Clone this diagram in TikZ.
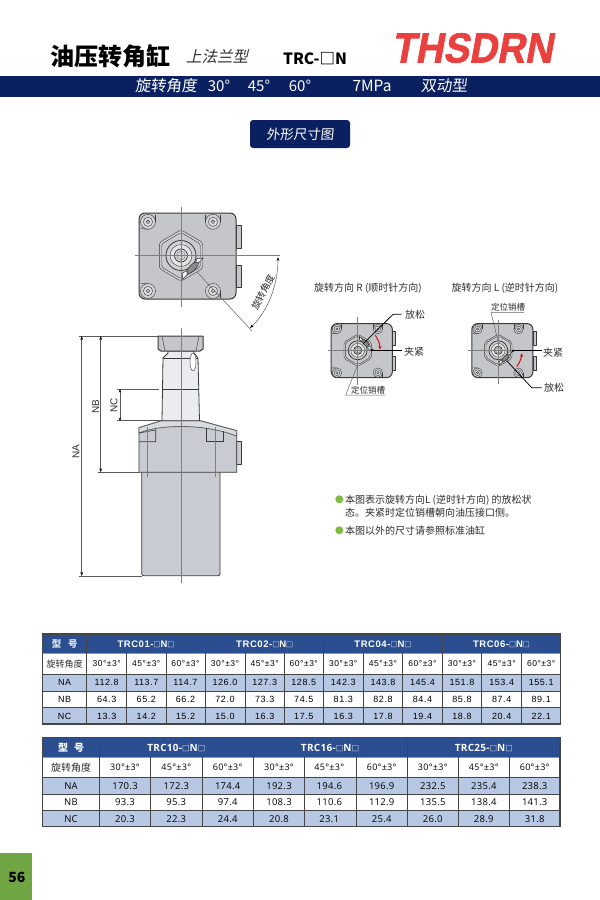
\documentclass[tikz,border=0pt]{standalone}
\usepackage{fontspec}
\usepackage{graphicx}
\usetikzlibrary{arrows.meta}
\setmainfont{Liberation Sans}
\newfontfamily\cjk{Noto Sans CJK SC}
\newfontfamily\cjkslant[FakeSlant=0.22]{Noto Sans CJK SC}
\newfontfamily\cjkband[FakeSlant=0.1]{Noto Sans CJK SC}
\newfontfamily\tabA[LetterSpace=6]{Liberation Sans}
\newfontfamily\tabB[LetterSpace=3]{Open Sans}
\newfontfamily\logofont[FakeBold=1.6,FakeSlant=0.2]{Liberation Sans Bold}
\newcommand\fsz[1]{\fontsize{#1}{#1}\selectfont}
\newcommand\holeat[2]{%
    \draw[thinl,fill=plate!80!white] (#1,#2) circle (7.5);
    \draw[thinl,fill=plate!60!white] (#1,#2) circle (4.6);
    \draw[thinl,fill=plate] (#1,#2) circle (1.8);
}
\definecolor{navy}{HTML}{0A2060}
\definecolor{hdr}{HTML}{2A4E8F}
\definecolor{lb}{HTML}{B6C8E4}
\definecolor{grid}{HTML}{454545}
\definecolor{bodyg}{HTML}{C9CBD3}
\definecolor{plate}{HTML}{C4C6CA}
\definecolor{neckg}{HTML}{EAECEF}
\definecolor{edge}{HTML}{3A3A3A}
\definecolor{cl}{HTML}{7F7F7F}
\definecolor{logored}{HTML}{E8413F}
\definecolor{pagegreen}{HTML}{70A544}
\definecolor{bull}{HTML}{7DBB42}
\definecolor{txt}{HTML}{2E2E2E}
\tikzset{
  txtnode/.style={inner sep=0pt,outer sep=0pt,text=txt},
  outline/.style={draw=edge,line width=.8pt,line join=round},
  thinl/.style={draw=edge,line width=.4pt},
  centerl/.style={draw=cl,line width=.55pt},
  dimline/.style={draw=black!65,line width=.5pt},
  leader/.style={draw=black,line width=.75pt},
  grayleader/.style={draw=black!60,line width=.5pt},
  redarrow/.style={draw=red!85!black,line width=.9pt,-{Stealth[length=3.5pt,width=3pt]}},
  slotmark/.pic={
    \path[fill=white,draw=edge,line width=.6pt] (22,2.7) -- (1,24.3) -- (2,17)
      .. controls (8,16) and (14,11) .. (16,3) -- cycle;
    \begin{scope}[shift={(11.5,12.3)},rotate=45]
      \draw[draw=edge,line width=.6pt,fill=plate!70!black] (0,0) ellipse (7.5 and 3);
    \end{scope}
  },
  cylview/.pic={
    \draw[outline,fill=plate] (55,-30.5) -- (60,-30.5) -- (60,-7.5) -- (55,-7.5) -- cycle;
    \draw[outline,fill=plate] (55,9.5) -- (60,9.5) -- (60,31.5) -- (55,31.5) -- cycle;
    \draw[outline,fill=plate,line width=1pt,rounded corners=6] (-42,-42.5) rectangle (55,43.5);
    \holeat{-33}{-33.7}
    \holeat{32}{-33.7}
    \holeat{-33}{35.5}
    \holeat{32}{35.5}
    \draw[thinl] (-40.5,-27) -- (-33,-26.2);
    \draw[thinl] (-25.5,-41) -- (-25.5,-33.7);
    \draw[thinl] (24.5,-41) -- (24.5,-33.7);
    \draw[thinl] (39.5,-41) -- (39.5,-33.7);
    \draw[thinl] (-40.5,28) -- (-33,27.7);
    \draw[thinl] (39.5,35.5) -- (39.5,42);
    \draw[thinl,fill=plate!85!white,rounded corners=2] (0,-25.7) -- (21.7,-13) -- (21.7,13) -- (0,25.7) -- (-21.7,13) -- (-21.7,-13) -- cycle;
    \draw[thinl,fill=plate!92!white,rounded corners=2] (0,-23) -- (19.5,-11.5) -- (19.5,11.5) -- (0,23) -- (-19.5,11.5) -- (-19.5,-11.5) -- cycle;
    \draw[outline,fill=plate!80!white] (0,0) circle (15);
    \draw[thinl,fill=plate!45!white] (0,0) circle (11);
    \draw[outline,fill=white!92!black] (0,0) circle (6.5);
    \draw[centerl,fill=plate!80!white] (0,0) circle (4.5);
  }
}
\begin{document}
\begin{tikzpicture}[x=1pt,y=-1pt,font=\cjk]
\useasboundingbox (0,0) rectangle (600,900);
\fill[white] (0,0) rectangle (600,900);

% header
\node[txtnode,anchor=center,text=black] (title) at (110,56) {\fsz{24}\bfseries 油压转角缸};
\node[txtnode,anchor=center] (subtitle) at (217,57) {\fsz{15.5}\cjkslant 上法兰型};
\node[txtnode,anchor=center,text=black] (model) at (315,59) {\fsz{15.5}\bfseries TRC-□N};
\node[inner sep=0pt,anchor=center,text=logored] (logo) at (472,48) {\scalebox{.92}[1]{\fsz{42}\logofont THSDRN}};
\fill[navy] (0,76) rectangle (600,97);
\node[txtnode,anchor=center,text=white] (b1) at (166,86) {\fsz{15.5}\cjkband 旋转角度};
\node[txtnode,anchor=center,text=white] (b2) at (219,86) {\fsz{15}\cjk 30°};
\node[txtnode,anchor=center,text=white] (b3) at (259,86) {\fsz{15}\cjk 45°};
\node[txtnode,anchor=center,text=white] (b4) at (300,86) {\fsz{15}\cjk 60°};
\node[txtnode,anchor=center,text=white] (b5) at (372,86) {\fsz{15.5}\cjk 7MPa};
\node[txtnode,anchor=center,text=white] (b6) at (444,86) {\fsz{15.5}\cjkband 双动型};
\fill[navy,rounded corners=3] (250,120) rectangle (350,148);
\node[txtnode,anchor=center,text=white] (btn) at (300,134) {\fsz{13.5}\cjkband 外形尺寸图};

% top view
\path (181,255.5) pic {cylview};
\path (181,255.5) pic {slotmark};
\coordinate (cla) at (135,255.5); \coordinate (clb) at (280,255.5);
\coordinate (clc) at (181,207); \coordinate (cld) at (181,307);
\draw[centerl] (cla) -- (clb);
\draw[centerl] (clc) -- (cld);
\coordinate (angfrom) at (197,272); \coordinate (angto) at (252,331);
\draw[grayleader] (angfrom) -- (angto);
\coordinate (arcA) at (278,257); \coordinate (arcB) at (250,328);
\draw[dimline,{Stealth[length=4pt,width=2.6pt,black]}-{Stealth[length=4pt,width=2.6pt,black]}] (arcA) .. controls (278,283) and (269,310) .. (arcB);
\node[txtnode,rotate=62,anchor=center] (anglab) at (263,292) {\fsz{9.5}旋转角度};

% side view
\draw[outline,fill=bodyg,rounded corners=2] (141.7,472) -- (141.7,575.7) -- (220,575.7) -- (220,472);
\draw[outline,fill=bodyg] (236.7,441.7) -- (241.7,441.7) -- (241.7,464) -- (236.7,464) -- cycle;
\draw[outline,fill=bodyg] (139,472.3) -- (139,427.7) -- (161.7,420.7) -- (200,420.7) -- (236.7,430.7) -- (236.7,472.3) -- cycle;
\draw[outline,draw=edge!80,fill=bodyg!70!white] (139,427.7) -- (161.7,420.7) -- (200,420.7) -- (236.7,430.7) -- (236.7,436) .. controls (215,428) and (195,426.5) .. (181,426.5) .. controls (165,426.5) and (150,428.5) .. (139,433) -- cycle;
\draw[thinl,line width=.6pt] (139,433) -- (155.7,430) -- (155.7,441.7) -- (139,441.7);
\draw[thinl,line width=.6pt] (206.7,428.2) -- (206.7,441.7) -- (223,441.7) -- (223,430.8);
\draw[centerl] (147.3,427) -- (147.3,476.7);
\draw[centerl] (215,427) -- (215,476.7);
\draw[outline,fill=neckg] (162,420.7) -- (163,358) -- (168,353) -- (168,351) -- (194,351) -- (194,353) -- (198,358) -- (199.5,420.7) -- cycle;
\draw[thinl] (163,358) -- (198,358);
\draw[thinl] (162.5,389.5) -- (199,389.5);
\draw[thinl,fill=white] (193,362) ellipse (3 and 9);
\draw[outline,fill=plate,line width=1pt] (158,336) -- (203,336) -- (203,349) -- (200,351) -- (161,351) -- (158,349) -- cycle;
\draw[thinl] (162,336) -- (165,351);
\draw[thinl] (199,336) -- (196,351);
\coordinate (scla) at (181,328); \coordinate (sclb) at (181,583);
\draw[centerl] (scla) -- (sclb);

% dims
\coordinate (natop) at (81.7,336); \coordinate (nabot) at (81.7,576);
\coordinate (nbtop) at (100.7,336); \coordinate (nbbot) at (100.7,472.3);
\coordinate (nctop) at (120,389); \coordinate (ncbot) at (120,421);
\coordinate (e1a) at (79,336); \coordinate (e1b) at (158,336);
\coordinate (e2a) at (79,576); \coordinate (e2b) at (142,576);
\coordinate (e3a) at (98,472.3); \coordinate (e3b) at (139,472.3);
\coordinate (e4a) at (117,389); \coordinate (e4b) at (159,389);
\coordinate (e5a) at (117,420.7); \coordinate (e5b) at (162,420.7);
\draw[dimline] (e1a) -- (e1b); \draw[dimline] (e2a) -- (e2b); \draw[dimline] (e3a) -- (e3b);
\draw[dimline] (e4a) -- (e4b); \draw[dimline] (e5a) -- (e5b);
\draw[dimline,{Stealth[length=4pt,width=2.6pt,black]}-{Stealth[length=4pt,width=2.6pt,black]}] (natop) -- (nabot);
\draw[dimline,{Stealth[length=4pt,width=2.6pt,black]}-{Stealth[length=4pt,width=2.6pt,black]}] (nbtop) -- (nbbot);
\draw[dimline,{Stealth[length=3.5pt,width=2.6pt,black]}-{Stealth[length=3.5pt,width=2.6pt,black]}] (nctop) -- (ncbot);
\node[txtnode,rotate=90,anchor=center] (na) at (76,452) {\fsz{10}\rmfamily NA};
\node[txtnode,rotate=90,anchor=center] (nb) at (95.6,406.7) {\fsz{10}\rmfamily NB};
\node[txtnode,rotate=90,anchor=center] (nc) at (114,405) {\fsz{10}\rmfamily NC};

% small views
\node[txtnode,anchor=center] (rtitle) at (368,288) {\fsz{10}旋转方向 R (顺时针方向)};
\node[txtnode,anchor=center] (ltitle) at (505,288) {\fsz{10}旋转方向 L (逆时针方向)};
\path (357.7,350.3) pic[scale=.63] {cylview};
\path (357.7,350.3) pic[scale=.63,rotate=90] {slotmark};
\path (498.3,350.3) pic[scale=.63] {cylview};
\path (498.3,350.3) pic[scale=.63] {slotmark};
% left small view
\coordinate (ra) at (327.7,350.3); \coordinate (rb) at (372,350.3);
\coordinate (rc) at (357.7,317); \coordinate (rd) at (357.7,385);
\draw[centerl] (ra) -- (rb); \draw[centerl] (rc) -- (rd);
\coordinate (r1) at (401.7,314.3); \coordinate (r2) at (393,314.3); \coordinate (r3) at (363,344);
\draw[leader] (r1) -- (r2) -- (r3);
\coordinate (r4) at (371.7,350.3); \coordinate (r5) at (401.7,350.3);
\draw[leader] (r4) -- (r5);
\fill[black] (r4) circle (1.2);
\coordinate (r6) at (385,395); \coordinate (r7) at (345.7,395); \coordinate (r8) at (358,364);
\draw[grayleader] (r6) -- (r7) -- (r8);
\coordinate (r9) at (375,335); \coordinate (r10) at (380,349.5);
\draw[redarrow] (r9) .. controls (378,339) and (380,344) .. (r10);
\node[txtnode,anchor=center] (r11) at (415,315) {\fsz{10}放松};
\node[txtnode,anchor=center] (r12) at (414,351.5) {\fsz{10}夹紧};
\node[txtnode,anchor=center] (r13) at (368,390) {\fsz{8.5}定位销槽};
% right small view
\coordinate (la) at (468,350.3); \coordinate (lb) at (513,350.3);
\coordinate (lc) at (498.3,320); \coordinate (ld) at (498.3,384);
\draw[centerl] (la) -- (lb); \draw[centerl] (lc) -- (ld);
\coordinate (l1) at (513,350.8); \coordinate (l2) at (541.7,350.8);
\draw[leader] (l1) -- (l2);
\fill[black] (l1) circle (1.2);
\coordinate (l3) at (541.7,387.7); \coordinate (l4) at (531.7,387.7); \coordinate (l5) at (506.7,360.7);
\draw[leader] (l3) -- (l4) -- (l5);
\coordinate (l6) at (524,312.7); \coordinate (l7) at (491,312.7); \coordinate (l8) at (498,341);
\draw[grayleader] (l6) -- (l7) -- (l8);
\coordinate (l9) at (516.7,366.7); \coordinate (l10) at (521.7,353.3);
\draw[redarrow] (l9) .. controls (520,362) and (521.5,358) .. (l10);
\node[txtnode,anchor=center] (l11) at (553,353) {\fsz{10}夹紧};
\node[txtnode,anchor=center] (l12) at (554,388) {\fsz{10}放松};
\node[txtnode,anchor=center] (l13) at (508,307) {\fsz{8.5}定位销槽};

% notes
\fill[bull] (339.3,499.3) circle (4);
\fill[bull] (339.3,530.3) circle (4);
\node[txtnode,anchor=west] (n1) at (345,500) {\fsz{10}本图表示旋转方向L (逆时针方向) 的放松状};
\node[txtnode,anchor=west] (n2) at (345,513) {\fsz{10}态。夹紧时定位销槽朝向油压接口侧。};
\node[txtnode,anchor=west] (n3) at (345,531) {\fsz{10}本图以外的尺寸请参照标准油缸};

% table 1
\fill[hdr] (42.7,634) rectangle (560.7,653.3);
\fill[lb] (42.7,674.3) rectangle (560.7,691);
\fill[lb] (42.7,707.7) rectangle (560.7,724);
\foreach \yy in {674.3,691,707.7} \draw[grid,line width=.9pt] (42.7,\yy) -- (560.7,\yy);
\draw[black!40,line width=.6pt] (42.7,653.3) -- (560.7,653.3);
\foreach \xx in {126.7,166,245,284.3,363.3,402.7,481.7,521.7} \draw[grid,line width=.9pt] (\xx,653.3) -- (\xx,724);
\foreach \xx in {86.7,205,323.3,442.3} \draw[grid,line width=.9pt] (\xx,634) -- (\xx,724);
\draw[grid,line width=1.1pt] (42.7,634) rectangle (560.7,724);
\node[txtnode,anchor=center,text=white!85!hdr] (ta0) at (64.7,644) {\fsz{9.5}\bfseries 型\hspace{.7em}号};
\node[txtnode,anchor=center] (ta1) at (64.7,664) {\fsz{9}旋转角度};
\node[txtnode,anchor=center,text=black] (ta2) at (64.7,682.8) {\fsz{9}\tabA NA};
\node[txtnode,anchor=center,text=black] (ta3) at (64.7,699.5) {\fsz{9}\tabA NB};
\node[txtnode,anchor=center,text=black] (ta4) at (64.7,716) {\fsz{9}\tabA NC};
\foreach \cx/\lbl [count=\ci] in {146/TRC01,264.7/TRC02,382.9/TRC04,501.5/TRC06}
  \node[txtnode,anchor=center,text=white,name=tah\ci] at (\cx,644) {\fsz{9.5}\tabA\bfseries \lbl-{\cjk\fsz{7}□}N{\cjk\fsz{7}□}};
\foreach \cx/\ang/\a/\b/\c [count=\ci] in {
 106.7/30/112.8/64.3/13.3,146.3/45/113.7/65.2/14.2,185.5/60/114.7/66.2/15.2,
 225/30/126.0/72.0/15.0,264.7/45/127.3/73.3/16.3,303.8/60/128.5/74.5/17.5,
 343.3/30/142.3/81.3/16.3,383/45/143.8/82.8/17.8,422.5/60/145.4/84.4/19.4,
 462/30/151.8/85.8/18.8,501.7/45/153.4/87.4/20.4,541.2/60/155.1/89.1/22.1} {
  \node[txtnode,anchor=center,text=black,name=tang\ci] at (\cx,664) {\fsz{8.5}\tabA \ang°±3°};
  \node[txtnode,anchor=center,text=black,name=tna\ci] at (\cx,682.8) {\fsz{9}\tabA \a};
  \node[txtnode,anchor=center,text=black,name=tnb\ci] at (\cx,699.5) {\fsz{9}\tabA \b};
  \node[txtnode,anchor=center,text=black,name=tnc\ci] at (\cx,716) {\fsz{9}\tabA \c};
}

% table 2
\fill[hdr] (42.7,737.3) rectangle (560,757.3);
\fill[lb] (42.7,777.3) rectangle (560,794);
\fill[lb] (42.7,810.3) rectangle (560,826.7);
\foreach \yy in {777.3,794,810.3} \draw[grid,line width=.9pt] (42.7,\yy) -- (560,\yy);
\draw[black!40,line width=.6pt] (42.7,757.3) -- (560,757.3);
\foreach \xx in {150.7,202,304.7,356,458.3,509.3} \draw[grid,line width=.9pt] (\xx,757.3) -- (\xx,826.7);
\foreach \xx in {99.3,253.3,407.3} \draw[grid,line width=.9pt] (\xx,737.3) -- (\xx,826.7);
\draw[grid,line width=1.1pt] (42.7,737.3) rectangle (560,826.7);
\node[txtnode,anchor=center,text=white] (tb0) at (71,748) {\fsz{10}\bfseries 型\hspace{.6em}号};
\node[txtnode,anchor=center] (tb1) at (71,768) {\fsz{10}旋转角度};
\node[txtnode,anchor=center,text=black] (tb2) at (71,786) {\fsz{9.5}\tabB NA};
\node[txtnode,anchor=center,text=black] (tb3) at (71,802.5) {\fsz{9.5}\tabB NB};
\node[txtnode,anchor=center,text=black] (tb4) at (71,819) {\fsz{9.5}\tabB NC};
\foreach \cx/\lbl [count=\ci] in {176.3/TRC10,330/TRC16,483.8/TRC25}
  \node[txtnode,anchor=center,text=white,name=tbh\ci] at (\cx,748) {\fsz{10}\tabB\bfseries \lbl-{\cjk\fsz{7.5}□}N{\cjk\fsz{7.5}□}};
\foreach \cx/\ang/\a/\b/\c [count=\ci] in {
 125/30/170.3/93.3/20.3,176.3/45/172.3/95.3/22.3,227.7/60/174.4/97.4/24.4,
 279/30/192.3/108.3/20.8,329.3/45/194.6/110.6/23.1,381.7/60/196.9/112.9/25.4,
 432.8/30/232.5/135.5/26.0,483.8/45/235.4/138.4/28.9,534.7/60/238.3/141.3/31.8} {
  \node[txtnode,anchor=center,text=black,name=tbang\ci] at (\cx,767.5) {\fsz{9}\tabB \ang°±3°};
  \node[txtnode,anchor=center,text=black,name=tbna\ci] at (\cx,786) {\fsz{9.5}\tabB \a};
  \node[txtnode,anchor=center,text=black,name=tbnb\ci] at (\cx,802.5) {\fsz{9.5}\tabB \b};
  \node[txtnode,anchor=center,text=black,name=tbnc\ci] at (\cx,819) {\fsz{9.5}\tabB \c};
}

% page tab
\fill[pagegreen] (0,853) rectangle (32,900);
\node[txtnode,anchor=center,text=black] (pg) at (17,877) {\fsz{14}\bfseries 56};
\end{tikzpicture}
\end{document}
